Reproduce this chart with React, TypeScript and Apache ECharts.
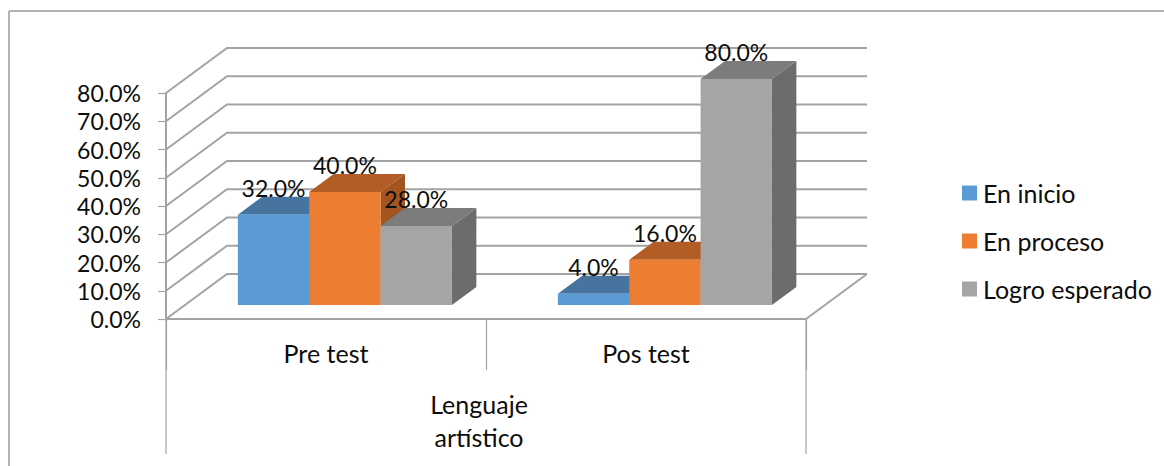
import React, { useEffect, useRef } from "react";
import * as echarts from "echarts";

const categories = ["Pre test", "Pos test"];
const groupLabel = "Lenguaje\nartístico";
const axisTicks = [0, 10, 20, 30, 40, 50, 60, 70, 80];
const enInicio = [32, 4];
const enProceso = [40, 16];
const logroEsperado = [28, 80];

const FONT = "Lato";
const TEXT_COLOR = "#0d0d0d";
const LINE_COLOR = "#a3a3a3";
const NUMBER_SIZE = 23;
const WORD_SIZE = 25;

// Oblique projection of the chart box: how far the back wall sits from the front plane.
const DEPTH_X = 61;
const DEPTH_Y = 45;
// Bars stand between these fractions of the box depth.
const BAR_NEAR = 0.31;
const BAR_DEPTH = 0.4;
// Share of a category band filled by its three bars.
const CLUSTER_SHARE = 0.669;

const palette = [
  { name: "En inicio", values: enInicio, front: "#5b9bd5", top: "#46749f", side: "#3e6890" },
  { name: "En proceso", values: enProceso, front: "#ed7d31", top: "#b15d25", side: "#a35521" },
  { name: "Logro esperado", values: logroEsperado, front: "#a5a5a5", top: "#7c7c7c", side: "#6c6c6c" },
];

// Back-wall grid line with its return along the side wall, one per axis tick.
const renderWallLine = (params: any, api: any) => {
  const box = params.coordSys;
  const y = api.coord([0, api.value(0)])[1];
  return {
    type: "polyline",
    z2: 0,
    shape: {
      points: [
        [box.x, y],
        [box.x + DEPTH_X, y - DEPTH_Y],
        [box.x + box.width + DEPTH_X, y - DEPTH_Y],
      ],
    },
    style: { fill: "none", stroke: LINE_COLOR, lineWidth: 2 },
  };
};

// Edge closing the floor on the right-hand side.
const renderFloorEdge = (params: any, api: any) => {
  const box = params.coordSys;
  const y = api.coord([0, 0])[1];
  const x = box.x + box.width;
  return {
    type: "line",
    z2: 0,
    shape: { x1: x, y1: y, x2: x + DEPTH_X, y2: y - DEPTH_Y },
    style: { stroke: LINE_COLOR, lineWidth: 2 },
  };
};

// Draws one series' prism: side face, top face, front face, plus its value label.
const makeBarRenderer = (seriesIndex: number) => (_params: any, api: any) => {
  const colors = palette[seriesIndex];
  const band = api.size([1, 0])[0];
  const barWidth = (band * CLUSTER_SHARE) / palette.length;
  const value = api.value(1);
  const centre = api.coord([api.value(0), 0]);
  const topCentre = api.coord([api.value(0), value]);
  const shiftX = DEPTH_X * BAR_NEAR;
  const shiftY = DEPTH_Y * BAR_NEAR;
  const left = centre[0] + shiftX + (seriesIndex - palette.length / 2) * barWidth;
  const right = left + barWidth;
  const bottom = centre[1] - shiftY;
  const top = topCentre[1] - shiftY;
  const dx = DEPTH_X * BAR_DEPTH;
  const dy = DEPTH_Y * BAR_DEPTH;
  return {
    type: "group",
    children: [
      {
        type: "polygon",
        z2: 10,
        shape: { points: [[right, bottom], [right, top], [right + dx, top - dy], [right + dx, bottom - dy]] },
        style: { fill: colors.side },
      },
      {
        type: "polygon",
        z2: 10,
        shape: { points: [[left, top], [right, top], [right + dx, top - dy], [left + dx, top - dy]] },
        style: { fill: colors.top },
      },
      {
        type: "rect",
        z2: 10,
        shape: { x: left, y: top, width: barWidth, height: bottom - top },
        style: { fill: colors.front },
      },
      {
        type: "text",
        z2: 100,
        style: {
          text: `${value.toFixed(1)}%`,
          x: left + barWidth / 2,
          y: top - 27,
          align: "center",
          verticalAlign: "middle",
          fontFamily: FONT,
          fontSize: NUMBER_SIZE,
          fill: TEXT_COLOR,
        },
      },
    ],
  };
};

export default function App() {
  const ref = useRef<HTMLDivElement>(null);

  useEffect(() => {
    document.body.style.margin = "0";
    const chart = echarts.init(ref.current, undefined, { renderer: "svg" });
    chart.setOption({
      animation: false,
      backgroundColor: "#ffffff",
      textStyle: { fontFamily: FONT },
      grid: { left: 166, top: 93, width: 640, height: 226, containLabel: false, outerBoundsMode: "none" },
      legend: {
        orient: "vertical",
        left: 962,
        top: 178,
        padding: 0,
        itemWidth: 15,
        itemHeight: 15,
        itemGap: 18,
        icon: "rect",
        data: palette.map((p) => p.name),
        textStyle: { fontFamily: FONT, fontSize: WORD_SIZE, color: TEXT_COLOR, lineHeight: 30, padding: [0, 0, 0, 1] },
      },
      xAxis: {
        type: "category",
        data: categories,
        axisLine: { lineStyle: { color: LINE_COLOR, width: 2 } },
        axisTick: { show: true, length: 51, alignWithLabel: false, lineStyle: { color: LINE_COLOR, width: 1.2 } },
        axisLabel: { fontFamily: FONT, fontSize: WORD_SIZE, color: TEXT_COLOR, margin: 21 },
        splitLine: { show: false },
        name: groupLabel,
        nameLocation: "middle",
        nameGap: 68,
        nameTextStyle: { fontFamily: FONT, fontSize: WORD_SIZE, color: TEXT_COLOR, lineHeight: 33, padding: [0, 14, 0, 0] },
      },
      yAxis: {
        type: "value",
        min: 0,
        max: 80,
        interval: 10,
        axisLine: { show: true, lineStyle: { color: LINE_COLOR, width: 2 } },
        axisTick: { show: true, length: 8, lineStyle: { color: LINE_COLOR, width: 1.2 } },
        axisLabel: {
          fontFamily: FONT,
          fontSize: NUMBER_SIZE,
          color: TEXT_COLOR,
          margin: 25,
          padding: [3, 0, 0, 0],
          formatter: (v: number) => `${v.toFixed(1)}%`,
        },
        splitLine: { show: false },
      },
      series: [
        {
          type: "custom",
          silent: true,
          clip: false,
          data: axisTicks.map((t) => [t]),
          encode: { y: 0 },
          renderItem: renderWallLine,
        },
        {
          type: "custom",
          silent: true,
          clip: false,
          data: [[0]],
          encode: { y: 0 },
          renderItem: renderFloorEdge,
        },
        ...palette.map((p, i) => ({
          type: "custom",
          name: p.name,
          clip: false,
          itemStyle: { color: p.front },
          data: p.values.map((v, c) => [c, v]),
          encode: { x: 0, y: 1 },
          renderItem: makeBarRenderer(i),
        })),
      ],
      graphic: [
        // Chart frame: only its top and left edges are drawn.
        { type: "line", shape: { x1: 9, y1: 11, x2: 1164, y2: 11 }, style: { stroke: "#b3b3b3", lineWidth: 2 } },
        { type: "line", shape: { x1: 9, y1: 11, x2: 9, y2: 466 }, style: { stroke: "#b3b3b3", lineWidth: 2 } },
        // Outer ends of the multi-level category axis.
        { type: "line", shape: { x1: 166, y1: 319, x2: 166, y2: 454 }, style: { stroke: LINE_COLOR, lineWidth: 1.2 } },
        { type: "line", shape: { x1: 806, y1: 319, x2: 806, y2: 454 }, style: { stroke: LINE_COLOR, lineWidth: 1.2 } },
      ],
    });
    return () => chart.dispose();
  }, []);

  return <div ref={ref} style={{ width: 1164, height: 466 }} />;
}
